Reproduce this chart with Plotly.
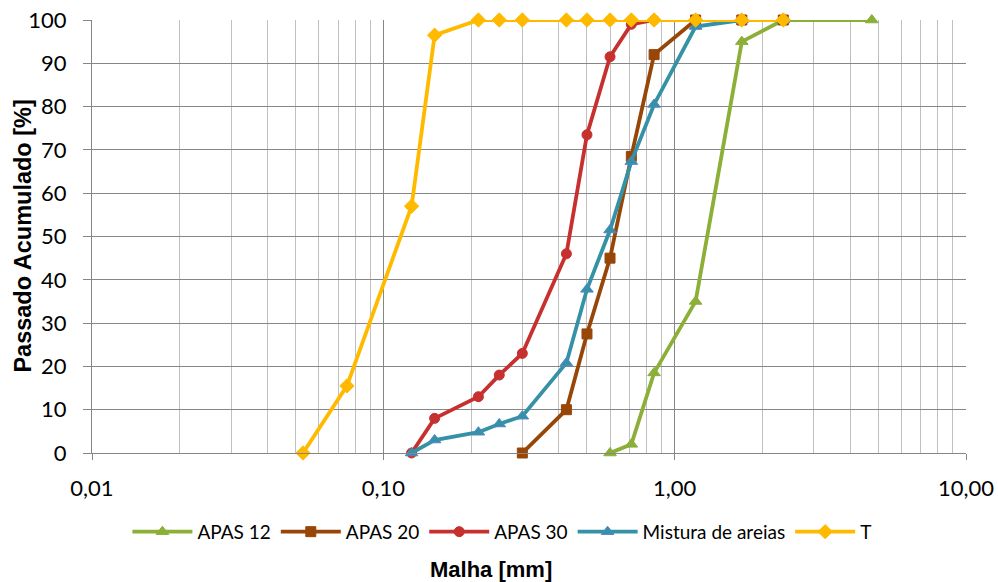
import plotly.graph_objects as go

apas12_x = [0.6, 0.71, 0.85, 1.18, 1.7, 2.36, 4.75]
apas12_y = [0, 2, 18.5, 35, 95, 100, 100]

apas20_x = [0.3, 0.425, 0.5, 0.6, 0.71, 0.85, 1.18, 1.7, 2.36]
apas20_y = [0, 10, 27.5, 45, 68.5, 92, 100, 100, 100]

apas30_x = [0.125, 0.15, 0.212, 0.25, 0.3, 0.425, 0.5, 0.6, 0.71, 0.85, 1.18, 1.7, 2.36]
apas30_y = [0, 8, 13, 18, 23, 46, 73.5, 91.5, 99, 100, 100, 100, 100]

mist_x = [0.125, 0.15, 0.212, 0.25, 0.3, 0.425, 0.5, 0.6, 0.71, 0.85, 1.18, 1.7, 2.36]
mist_y = [0, 3, 4.8, 6.7, 8.5, 20.8, 37.8, 51.5, 67.3, 80.5, 98.5, 100, 100]

t_x = [0.053, 0.075, 0.125, 0.15, 0.212, 0.25, 0.3, 0.425, 0.5, 0.6, 0.71, 0.85, 1.18, 1.7, 2.36]
t_y = [0, 15.5, 57, 96.5, 100, 100, 100, 100, 100, 100, 100, 100, 100, 100, 100]

x_tickvals = [0.01, 0.1, 1, 10]
x_ticktext = ["0,01", "0,10", "1,00", "10,00"]
y_tickvals = list(range(0, 101, 10))

series = [
    ("APAS 12", apas12_x, apas12_y, "#8BAF37", "triangle-up", "#8BAF37", 11),
    ("APAS 20", apas20_x, apas20_y, "#984608", "square", "#984608", 10),
    ("APAS 30", apas30_x, apas30_y, "#C6302F", "circle", "#C6302F", 10),
    ("Mistura de areias", mist_x, mist_y, "#3592A6", "triangle-up", "#4F86C6", 11),
    ("T", t_x, t_y, "#FFBA00", "diamond", "#FFBA00", 11),
]

FONT = "Lato, Calibri, Carlito, sans-serif"
TFONT = "Liberation Sans, Arial, sans-serif"

fig = go.Figure()
for name, xs, ys, col, sym, edge, sz in series:
    fig.add_trace(go.Scatter(
        x=xs, y=ys, name=name, mode="lines+markers",
        line=dict(color=col, width=3.8),
        marker=dict(symbol=sym, size=sz, color=col, line=dict(color=edge, width=1)),
        cliponaxis=False,
    ))

minor_vals = []
for d in [0.01, 0.1, 1]:
    for k in range(2, 10):
        minor_vals.append(round(d * k, 6))

fig.update_xaxes(
    type="log", range=[-2, 1], automargin=False,
    tickmode="array", tickvals=x_tickvals, ticktext=x_ticktext,
    showgrid=True, gridcolor="#868686", gridwidth=1,
    minor=dict(tickmode="array", tickvals=minor_vals, showgrid=True, gridcolor="#C0C0C0", gridwidth=1, ticks=""),
    showline=True, linecolor="#868686", linewidth=1,
    ticks="outside", ticklen=6, tickcolor="#868686",
    ticklabelstandoff=10,
    tickfont=dict(size=22, color="#000000", family=FONT),
    zeroline=False,
)
fig.update_yaxes(
    range=[0, 100], automargin=False, tickmode="array", tickvals=y_tickvals,
    showgrid=True, gridcolor="#868686", gridwidth=1,
    showline=True, linecolor="#868686", linewidth=1,
    ticks="outside", ticklen=8, tickcolor="#868686",
    ticklabelstandoff=12,
    tickfont=dict(size=22, color="#000000", family=FONT),
    zeroline=False,
)

fig.add_annotation(text="<b>Passado Acumulado [%]</b>", xref="paper", yref="paper",
                   x=-0.080, y=0.5, xanchor="center", yanchor="middle",
                   showarrow=False, textangle=-90,
                   font=dict(size=23.5, color="#000000", family=TFONT))
fig.add_annotation(text="<b>Malha [mm]</b>", xref="paper", yref="paper",
                   x=0.4565, y=-0.270, xanchor="center", yanchor="middle",
                   showarrow=False,
                   font=dict(size=22, color="#000000", family=TFONT))

fig.update_layout(
    width=998, height=582,
    margin=dict(l=92, r=32, t=20, b=129, autoexpand=False),
    paper_bgcolor="white", plot_bgcolor="white",
    showlegend=True,
    legend=dict(orientation="h", x=0.469, xanchor="center", y=-0.182, yanchor="middle",
                font=dict(size=19, color="#000000", family=FONT),
                itemwidth=60, traceorder="normal", bgcolor="rgba(0,0,0,0)"),
    font=dict(family=FONT),
)

fig.write_html("out.html")
